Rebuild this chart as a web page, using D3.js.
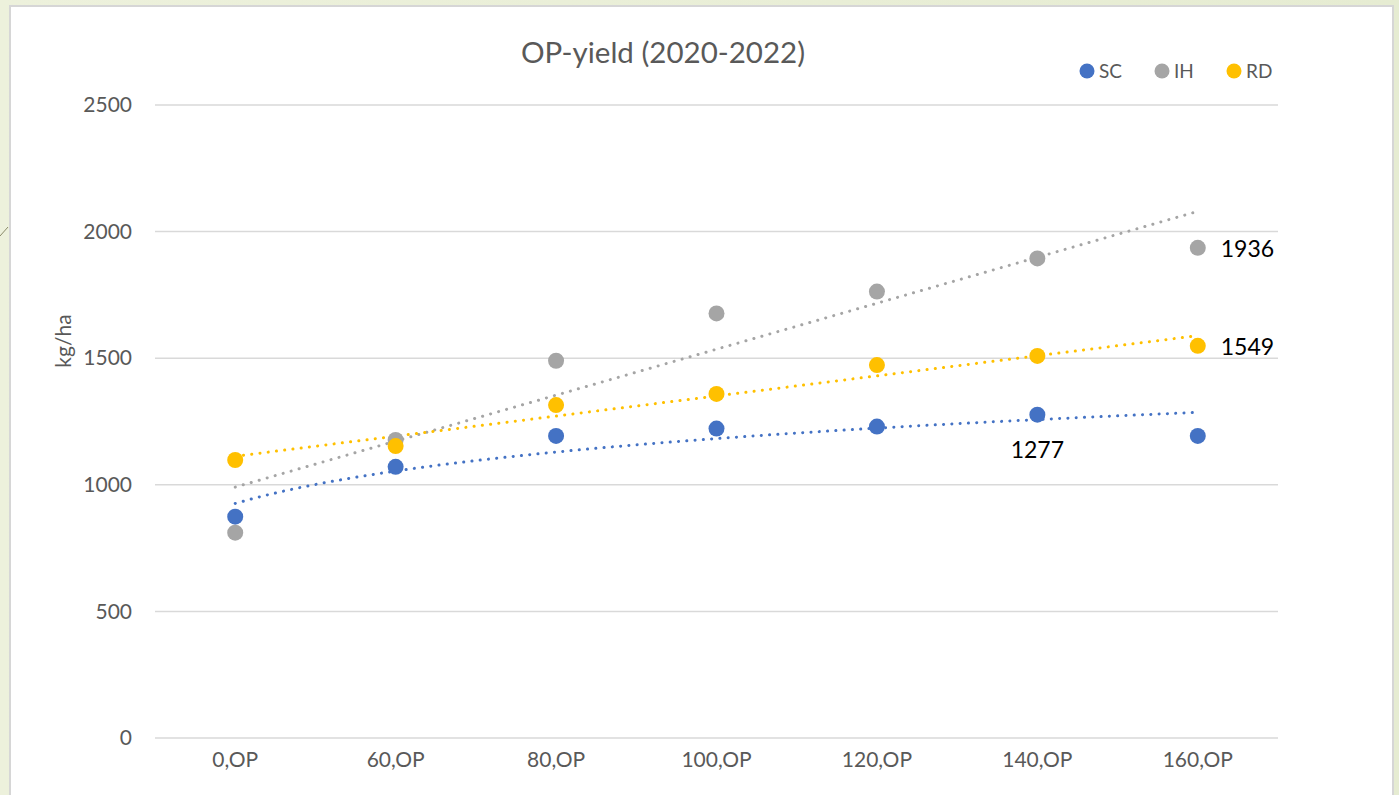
<!DOCTYPE html>
<html>
<head>
<meta charset="utf-8">
<script src="https://cdn.jsdelivr.net/npm/d3@7"></script>
<style>
  body { margin: 0; background: #eef1de; overflow: hidden; }
  svg { display: block; }
</style>
</head>
<body>
<div id="chart"></div>
<script>
// data (kg/ha)
var categories = ["0,OP", "60,OP", "80,OP", "100,OP", "120,OP", "140,OP", "160,OP"];
var scValues = [874, 1071, 1193, 1222, 1230, 1277, 1193];
var ihValues = [811, 1177, 1490, 1677, 1763, 1894, 1936];
var rdValues = [1098, 1153, 1315, 1359, 1473, 1509, 1549];
var yTicks = [0, 500, 1000, 1500, 2000, 2500];
var seriesNames = ["SC", "IH", "RD"];
// which points carry a value label: [series, category index, position]
var dataLabels = [["IH", 6, "right"], ["RD", 6, "right"], ["SC", 5, "below"]];

var colors = { SC: "#4472c4", IH: "#a5a5a5", RD: "#ffc000" };
var trendType = { SC: "log", IH: "linear", RD: "linear" };
var seriesValues = { SC: scValues, IH: ihValues, RD: rdValues };

var W = 1399, H = 795;
var font = "Lato, 'Open Sans', sans-serif";

var svg = d3.select("#chart").append("svg").attr("width", W).attr("height", H);

// page background + chart panel
var bg = svg.append("defs").append("linearGradient").attr("id", "bg")
    .attr("x1", "0").attr("y1", "0").attr("x2", "1").attr("y2", "0");
bg.append("stop").attr("offset", "0").attr("stop-color", "#edf1dc");
bg.append("stop").attr("offset", "1").attr("stop-color", "#e6ecd2");
svg.append("rect").attr("width", W).attr("height", H).attr("fill", "url(#bg)");
svg.append("line").attr("x1", 0).attr("y1", 236).attr("x2", 8).attr("y2", 227)
    .attr("stroke", "#8a8a6a").attr("stroke-width", 1);
svg.append("rect").attr("x", 10).attr("y", 6).attr("width", 1383).attr("height", 800)
    .attr("fill", "#fff").attr("stroke", "#d6d6d6").attr("stroke-width", 2);

// scales
var x = d3.scaleBand().domain(categories).range([155, 1278]);
var xc = function (c) { return x(c) + x.bandwidth() / 2; };
var xi = d3.scaleLinear().domain([1, categories.length]).range([xc(categories[0]), xc(categories[categories.length - 1])]);
var y = d3.scaleLinear().domain([0, 2500]).range([738, 105]);

// gridlines
svg.append("g").selectAll("line").data(yTicks).join("line")
    .attr("x1", 155).attr("x2", 1278)
    .attr("y1", function (d) { return y(d); }).attr("y2", function (d) { return y(d); })
    .attr("stroke", "#d9d9d9").attr("stroke-width", 1.5);

// y axis labels
var yAxis = svg.append("g").attr("transform", "translate(132,0)")
    .call(d3.axisLeft(y).tickValues(yTicks).tickFormat(d3.format("d")).tickSize(0).tickPadding(0));
yAxis.select(".domain").remove();
yAxis.selectAll("text").attr("font-family", font).attr("font-size", 21).attr("fill", "#595959");

// x axis labels
var xAxis = svg.append("g").attr("transform", "translate(0,752)")
    .call(d3.axisBottom(x).tickSize(0).tickPadding(0));
xAxis.select(".domain").remove();
xAxis.selectAll("text").attr("font-family", font).attr("font-size", 21).attr("fill", "#595959");

// axis title
svg.append("text").attr("transform", "translate(71,341) rotate(-90)")
    .attr("text-anchor", "middle").attr("font-family", font).attr("font-size", 21)
    .attr("fill", "#595959").text("kg/ha");

// chart title
svg.append("text").attr("x", 663).attr("y", 63).attr("text-anchor", "middle")
    .attr("font-family", font).attr("font-size", 29.5).attr("fill", "#595959")
    .text("OP-yield (2020-2022)");

// trendlines: least squares on x = 1..n (log trend uses ln x)
function trendline(vals, type) {
    var xs = vals.map(function (v, i) { return type == "log" ? Math.log(i + 1) : i + 1; });
    var mx = d3.mean(xs), my = d3.mean(vals);
    var sxy = d3.sum(xs, function (v, i) { return (v - mx) * (vals[i] - my); });
    var sxx = d3.sum(xs, function (v) { return (v - mx) * (v - mx); });
    var b = sxy / sxx, a = my - b * mx;
    var pts = [];
    var steps = type == "log" ? 60 : 1;
    for (var k = 0; k <= steps; k++) {
        var t = 1 + (vals.length - 1) * k / steps;
        pts.push({ x: t, y: a + b * (type == "log" ? Math.log(t) : t) });
    }
    return pts;
}

var trendLine = d3.line().x(function (d) { return xi(d.x); }).y(function (d) { return y(d.y); });
seriesNames.forEach(function (s) {
    svg.append("path").datum(trendline(seriesValues[s], trendType[s]))
        .attr("d", trendLine).attr("fill", "none")
        .attr("stroke", colors[s]).attr("stroke-width", 3)
        .attr("stroke-linecap", "round").attr("stroke-dasharray", "0.1 8.2");
});

// markers
seriesNames.forEach(function (s) {
    svg.append("g").selectAll("circle").data(seriesValues[s]).join("circle")
        .attr("cx", function (d, i) { return xc(categories[i]); })
        .attr("cy", function (d) { return y(d); })
        .attr("r", 8).attr("fill", colors[s]);
});

// data labels
dataLabels.forEach(function (l) {
    var v = seriesValues[l[0]][l[1]];
    var cx = xc(categories[l[1]]), cy = y(v);
    var t = svg.append("text").attr("font-family", font).attr("font-size", 23)
        .attr("fill", "#000").text(v);
    if (l[2] == "right") {
        t.attr("x", cx + 23).attr("y", cy + 9);
    } else {
        t.attr("x", cx).attr("y", cy + 43).attr("text-anchor", "middle");
    }
});

// legend
var legendX = [1087, 1162, 1234];
var legend = svg.append("g").selectAll("g").data(seriesNames).join("g")
    .attr("transform", function (d, i) { return "translate(" + legendX[i] + ",71)"; });
legend.append("circle").attr("r", 7.5).attr("fill", function (d) { return colors[d]; });
legend.append("text").attr("x", 12).attr("y", 7).attr("font-family", font)
    .attr("font-size", 19).attr("fill", "#595959").text(function (d) { return d; });
</script>
</body>
</html>
